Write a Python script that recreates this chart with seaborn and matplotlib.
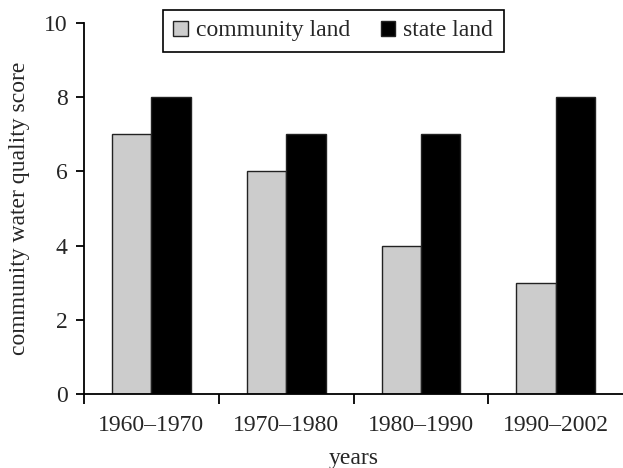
import pandas as pd
import matplotlib.pyplot as plt
from matplotlib.ticker import FixedLocator
import seaborn as sns

# Data
periods = ["1960–1970", "1970–1980", "1980–1990", "1990–2002"]
community_land = [7, 6, 4, 3]
state_land = [8, 7, 7, 8]
series_names = ["community land", "state land"]

df = pd.DataFrame({
    "years": periods * 2,
    "score": community_land + state_land,
    "land": [series_names[0]] * len(periods) + [series_names[1]] * len(periods),
})

sns.set_style("white")
plt.rcParams["font.family"] = ["Liberation Serif", "DejaVu Serif"]
plt.rcParams["font.size"] = 17

fig = plt.figure(figsize=(6.23, 4.68), dpi=100)
ax = fig.add_axes([0.135, 0.158, 0.865, 0.793])

sns.barplot(data=df, x="years", y="score", hue="land", order=periods,
            hue_order=series_names, palette=["#cccccc", "#000000"],
            width=0.585, gap=0, edgecolor="#222222", linewidth=1.0,
            saturation=1, ax=ax, legend=False)

ax.set_xlim(-0.5, 3.5)
ax.set_ylim(0, 10)
ax.set_yticks([0, 2, 4, 6, 8, 10])
ax.set_xlabel("years", fontsize=17, labelpad=9)
ax.set_ylabel("community water quality score", fontsize=17, labelpad=10)

sns.despine(ax=ax, top=True, right=True)
for side in ["left", "bottom"]:
    ax.spines[side].set_color("black")
    ax.spines[side].set_linewidth(1.3)

ax.tick_params(axis="y", which="major", direction="out", length=6, width=1.3,
               color="black", left=True, labelsize=17, pad=6)
ax.tick_params(axis="x", which="major", length=0, labelsize=17, pad=15)
ax.xaxis.set_minor_locator(FixedLocator([-0.5, 0.5, 1.5, 2.5]))
ax.tick_params(axis="x", which="minor", direction="out", length=7, width=1.3,
               color="black", bottom=True)

handles = [plt.Rectangle((0, 0), 1, 1, facecolor=c, edgecolor="#222222", linewidth=1.0)
           for c in ["#cccccc", "#000000"]]
leg = ax.legend(handles, series_names, ncol=2, loc="upper center",
                bbox_to_anchor=(0.535, 0.979), bbox_transform=fig.transFigure,
                borderaxespad=0, frameon=True, fancybox=False, framealpha=1,
                edgecolor="black", handlelength=0.6, handleheight=0.6,
                handletextpad=0.35, columnspacing=1.3, fontsize=17,
                borderpad=0.45)
leg.get_frame().set_linewidth(1.2)

fig.savefig("out.png", dpi=100)
